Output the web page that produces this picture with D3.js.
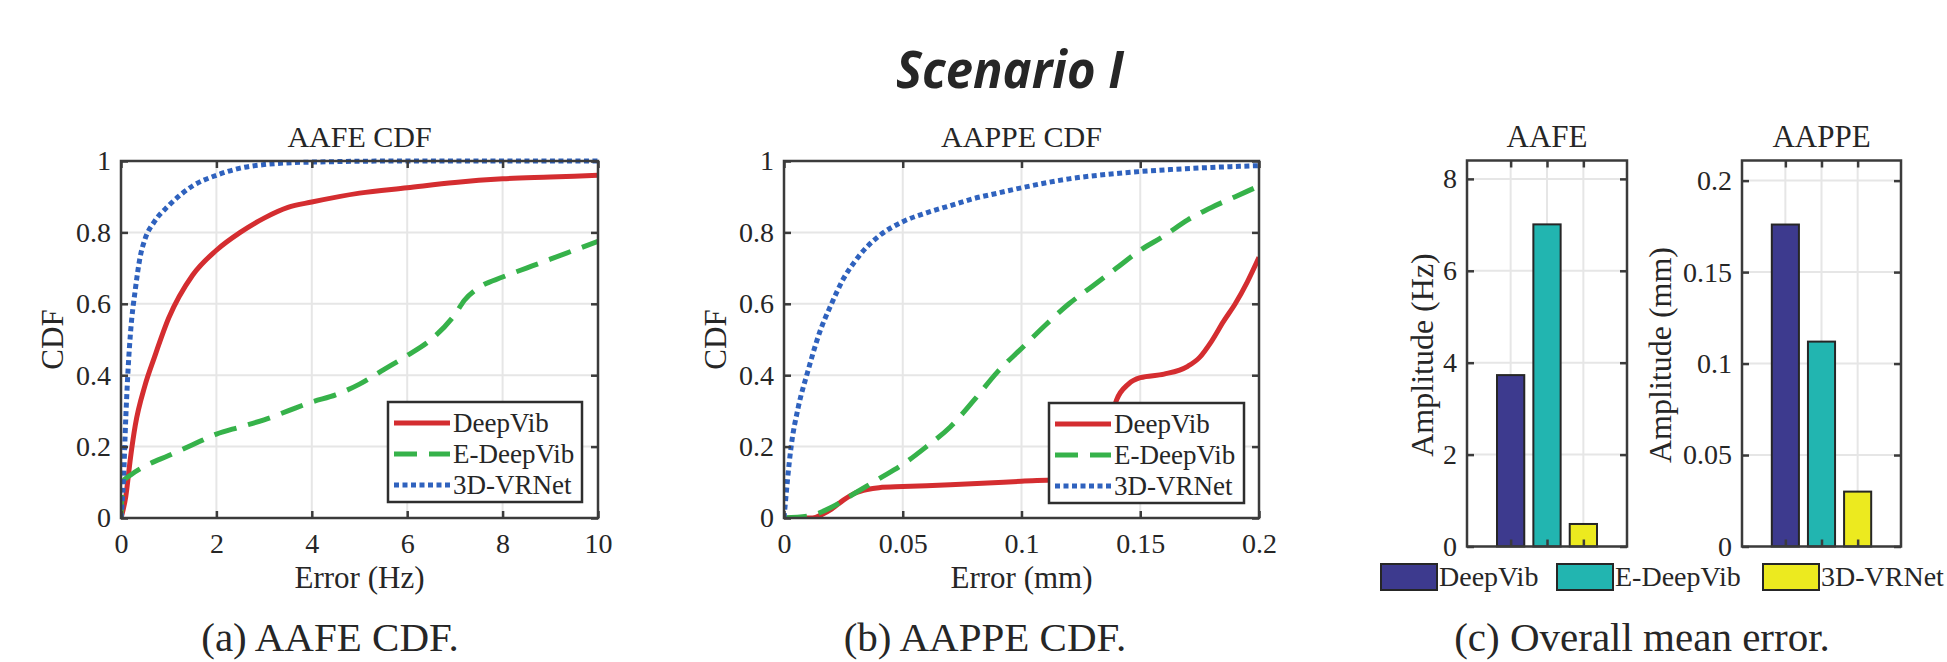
<!DOCTYPE html>
<html>
<head>
<meta charset="utf-8">
<script src="https://cdn.jsdelivr.net/npm/d3@7"></script>
<style>
  body { margin: 0; background: #fff; }
  svg { display: block; }
  text { font-family: "Liberation Serif", "Times New Roman", serif; fill: #262626; }
</style>
</head>
<body>
<svg id="fig" width="1947" height="662"></svg>
<script>
// ---- data ----
var seriesNames = ["DeepVib", "E-DeepVib", "3D-VRNet"];

// (a) AAFE CDF, error in Hz
var aafeDeepVib = [[0,0],[0.1,0.06],[0.2,0.17],[0.3,0.26],[0.5,0.37],[0.7,0.45],[1,0.56],[1.5,0.68],[2,0.75],[2.5,0.8],[3,0.84],[3.5,0.87],[4,0.885],[5,0.91],[6,0.925],[7,0.94],[8,0.95],[9,0.955],[10,0.96]];
var aafeEDeepVib = [[0,0],[0.03,0.1],[0.2,0.12],[0.5,0.145],[1,0.175],[1.5,0.205],[2,0.235],[2.5,0.255],[3,0.275],[3.5,0.3],[4,0.325],[4.5,0.345],[5,0.375],[5.5,0.415],[6,0.455],[6.5,0.5],[7,0.57],[7.2,0.61],[7.5,0.645],[8,0.675],[8.5,0.7],[9,0.725],[9.5,0.75],[10,0.775]];
var aafe3DVRNet = [[0,0],[0.05,0.1],[0.1,0.28],[0.15,0.42],[0.2,0.52],[0.3,0.64],[0.4,0.73],[0.5,0.78],[0.7,0.83],[1,0.875],[1.5,0.93],[2,0.96],[2.5,0.98],[3,0.99],[4,0.997],[6,1],[10,1]];

// (b) AAPPE CDF, error in mm
var aappeDeepVib = [[0,0],[0.012,0],[0.016,0.01],[0.02,0.025],[0.025,0.05],[0.03,0.07],[0.035,0.08],[0.04,0.085],[0.05,0.088],[0.07,0.093],[0.1,0.103],[0.12,0.11],[0.13,0.125],[0.135,0.2],[0.14,0.33],[0.145,0.375],[0.15,0.393],[0.16,0.403],[0.17,0.425],[0.175,0.45],[0.18,0.495],[0.185,0.55],[0.19,0.6],[0.195,0.66],[0.2,0.73]];
var aappeEDeepVib = [[0,0],[0.01,0.005],[0.02,0.03],[0.03,0.07],[0.04,0.11],[0.05,0.15],[0.06,0.2],[0.07,0.255],[0.08,0.33],[0.09,0.41],[0.1,0.475],[0.11,0.54],[0.12,0.6],[0.13,0.65],[0.14,0.7],[0.15,0.75],[0.16,0.79],[0.17,0.835],[0.18,0.87],[0.19,0.9],[0.2,0.93]];
var aappe3DVRNet = [[0,0],[0.003,0.2],[0.006,0.31],[0.01,0.41],[0.015,0.52],[0.02,0.6],[0.025,0.67],[0.03,0.72],[0.035,0.76],[0.04,0.79],[0.05,0.83],[0.06,0.855],[0.07,0.875],[0.08,0.895],[0.09,0.91],[0.1,0.925],[0.12,0.95],[0.14,0.965],[0.16,0.975],[0.18,0.982],[0.2,0.987]];

// (c) overall mean error
var aafeMean = [3.73, 7.01, 0.49];
var aappeMean = [0.176, 0.112, 0.030];

var cdfTicksY = [0, 0.2, 0.4, 0.6, 0.8, 1];
var aafeTicksX = [0, 2, 4, 6, 8, 10];
var aappeTicksX = [0, 0.05, 0.1, 0.15, 0.2];
var aafeBarTicks = [0, 2, 4, 6, 8];
var aappeBarTicks = [0, 0.05, 0.1, 0.15, 0.2];

var lineColors = ["#d42d30", "#36b24a", "#2f62be"];
var lineDash = [null, "23,12", "5,3.5"];
var barColors = ["#3d3a8e", "#22b5b0", "#ecea1f"];

var serif = "'Liberation Serif', 'Times New Roman', serif";
var axisColor = "#3b3b3b", gridColor = "#e6e6e6";
var svg = d3.select("#fig");

var fmt = function(d) { return d3.format("~g")(d); };

function frame(g, x, y, opt) {
  // grid
  g.append("g").selectAll("line").data(opt.xTicks).enter().append("line")
    .attr("x1", function(d) { return x(d); }).attr("x2", function(d) { return x(d); })
    .attr("y1", y.range()[0]).attr("y2", y.range()[1])
    .attr("stroke", gridColor).attr("stroke-width", 2);
  g.append("g").selectAll("line").data(opt.yTicks).enter().append("line")
    .attr("x1", x.range()[0]).attr("x2", x.range()[1])
    .attr("y1", function(d) { return y(d); }).attr("y2", function(d) { return y(d); })
    .attr("stroke", gridColor).attr("stroke-width", 2);
}

function axes(g, x, y, opt) {
  var x0 = x.range()[0], x1 = x.range()[1], y0 = y.range()[0], y1 = y.range()[1];
  var bottom = d3.axisBottom(x).tickValues(opt.xTicks).tickSizeInner(-7).tickSizeOuter(0)
    .tickPadding(opt.xPad || 15).tickFormat(opt.xLabels ? fmt : "");
  var top = d3.axisTop(x).tickValues(opt.xTicks).tickSizeInner(-7).tickSizeOuter(0).tickFormat("");
  var left = d3.axisLeft(y).tickValues(opt.yTicks).tickSizeInner(-7).tickSizeOuter(0)
    .tickPadding(opt.yPad || 10).tickFormat(fmt);
  var right = d3.axisRight(y).tickValues(opt.yTicks).tickSizeInner(-7).tickSizeOuter(0).tickFormat("");

  [[bottom, "translate(0," + y0 + ")"], [top, "translate(0," + y1 + ")"],
   [left, "translate(" + x0 + ",0)"], [right, "translate(" + x1 + ",0)"]].forEach(function(a) {
    var ax = g.append("g").attr("transform", a[1]).call(a[0])
      .attr("font-family", null).attr("font-size", null);
    ax.select(".domain").remove();
    ax.selectAll(".tick line").attr("stroke", axisColor).attr("stroke-width", 2.5);
    ax.selectAll(".tick text").style("font-family", serif).style("font-size", (opt.tickSize || 28) + "px")
      .attr("fill", "#262626");
  });
  g.append("rect").attr("x", x0).attr("y", y1).attr("width", x1 - x0).attr("height", y0 - y1)
    .attr("fill", "none").attr("stroke", axisColor).attr("stroke-width", 2.5);
}

function drawCdf(cfg) {
  var g = svg.append("g");
  var x = d3.scaleLinear().domain(cfg.xDomain).range([cfg.left, cfg.right]);
  var y = d3.scaleLinear().domain([0, 1]).range([cfg.bottom, cfg.top]);
  frame(g, x, y, { xTicks: cfg.xTicks, yTicks: cdfTicksY });

  var clipId = "clip" + cfg.id;
  svg.append("clipPath").attr("id", clipId).append("rect")
    .attr("x", cfg.left).attr("y", cfg.top - 3).attr("width", cfg.right - cfg.left).attr("height", cfg.bottom - cfg.top + 3);

  var line = d3.line().x(function(d) { return x(d[0]); }).y(function(d) { return y(d[1]); })
    .curve(d3.curveMonotoneX);
  var lines = g.append("g").attr("clip-path", "url(#" + clipId + ")");
  cfg.series.forEach(function(s, i) {
    lines.append("path").datum(s).attr("d", line).attr("fill", "none")
      .attr("stroke", lineColors[i]).attr("stroke-width", 5)
      .attr("stroke-dasharray", lineDash[i]);
  });

  // legend
  var L = cfg.legend;
  var lg = g.append("g");
  lg.append("rect").attr("x", L.x).attr("y", L.y).attr("width", L.w).attr("height", L.h)
    .attr("fill", "#fff").attr("stroke", "#2e2e2e").attr("stroke-width", 2.5);
  seriesNames.forEach(function(name, i) {
    var yy = L.y + 21 + i * 31;
    lg.append("line").attr("x1", L.x + 6).attr("x2", L.x + 62).attr("y1", yy).attr("y2", yy)
      .attr("stroke", lineColors[i]).attr("stroke-width", 5).attr("stroke-dasharray", lineDash[i]);
    lg.append("text").attr("x", L.x + 65).attr("y", yy).attr("dy", "0.33em")
      .attr("font-size", 27).text(name);
  });

  axes(g, x, y, { xTicks: cfg.xTicks, yTicks: cdfTicksY, xLabels: true, yPad: 10 });

  g.append("text").attr("x", (cfg.left + cfg.right) / 2).attr("y", 147)
    .attr("text-anchor", "middle").attr("font-size", 30).text(cfg.title);
  g.append("text").attr("x", (cfg.left + cfg.right) / 2).attr("y", 588)
    .attr("text-anchor", "middle").attr("font-size", 31).text(cfg.xLabel);
  g.append("text").attr("transform", "translate(" + cfg.yLabelX + "," + (cfg.top + cfg.bottom) / 2 + ") rotate(-90)")
    .attr("text-anchor", "middle").attr("dy", "0.35em").attr("font-size", 31).text("CDF");
}

function drawBars(cfg) {
  var g = svg.append("g");
  var x = d3.scaleLinear().domain([-0.2, 4.2]).range([cfg.left, cfg.right]);
  var y = d3.scaleLinear().domain([0, cfg.yMax]).range([cfg.bottom, cfg.top]);
  frame(g, x, y, { xTicks: [1, 2, 3], yTicks: cfg.yTicks });
  g.append("g").selectAll("rect").data(cfg.values).enter().append("rect")
    .attr("x", function(d, i) { return x(i + 1 - 0.375); })
    .attr("width", x(0.75) - x(0))
    .attr("y", function(d) { return y(d); })
    .attr("height", function(d) { return y(0) - y(d); })
    .attr("fill", function(d, i) { return barColors[i]; })
    .attr("stroke", "#262626").attr("stroke-width", 2);
  axes(g, x, y, { xTicks: [1, 2, 3], yTicks: cfg.yTicks, xLabels: false, yPad: 10 });
  g.append("text").attr("x", (cfg.left + cfg.right) / 2).attr("y", 147)
    .attr("text-anchor", "middle").attr("font-size", 31).text(cfg.title);
  g.append("text").attr("transform", "translate(" + cfg.yLabelX + "," + 355 + ") rotate(-90)")
    .attr("text-anchor", "middle").attr("dy", "0.35em").attr("font-size", 32).text(cfg.yLabel);
}

drawCdf({
  id: "a", left: 121, right: 598, top: 161, bottom: 518,
  xDomain: [0, 10], xTicks: aafeTicksX, title: "AAFE CDF", xLabel: "Error (Hz)", yLabelX: 52,
  series: [aafeDeepVib, aafeEDeepVib, aafe3DVRNet],
  legend: { x: 388, y: 402, w: 194, h: 100 }
});
drawCdf({
  id: "b", left: 784, right: 1259, top: 161, bottom: 518,
  xDomain: [0, 0.2], xTicks: aappeTicksX, title: "AAPPE CDF", xLabel: "Error (mm)", yLabelX: 715,
  series: [aappeDeepVib, aappeEDeepVib, aappe3DVRNet],
  legend: { x: 1049, y: 403, w: 195, h: 100 }
});
drawBars({
  left: 1467, right: 1627, top: 160.5, bottom: 546.5, yMax: 8.4, yTicks: aafeBarTicks,
  values: aafeMean, title: "AAFE", yLabel: "Amplitude (Hz)", yLabelX: 1422
});
drawBars({
  left: 1742, right: 1901, top: 160.5, bottom: 546.5, yMax: 0.211, yTicks: aappeBarTicks,
  values: aappeMean, title: "AAPPE", yLabel: "Amplitude (mm)", yLabelX: 1660
});

// shared bar legend
var legendX = [1381, 1557, 1763];
var bl = svg.append("g");
seriesNames.forEach(function(name, i) {
  bl.append("rect").attr("x", legendX[i]).attr("y", 564).attr("width", 56).attr("height", 26)
    .attr("fill", barColors[i]).attr("stroke", "#262626").attr("stroke-width", 2);
  bl.append("text").attr("x", legendX[i] + 58).attr("y", 577).attr("dy", "0.33em")
    .attr("font-size", 28).text(name);
});

// heading and captions
svg.append("text").attr("x", 1010).attr("y", 88).attr("text-anchor", "middle")
  .style("font-family", "'Open Sans', sans-serif").attr("font-weight", "bold").attr("font-style", "italic")
  .attr("font-size", 52).attr("fill", "#000").attr("textLength", 228).attr("lengthAdjust", "spacingAndGlyphs")
  .text("Scenario I");
var captions = [["(a) AAFE CDF.", 330], ["(b) AAPPE CDF.", 985], ["(c) Overall mean error.", 1642]];
svg.append("g").selectAll("text").data(captions).enter().append("text")
  .attr("x", function(d) { return d[1]; }).attr("y", 651).attr("text-anchor", "middle")
  .attr("font-size", 41).attr("fill", "#111").text(function(d) { return d[0]; });
</script>
</body>
</html>
